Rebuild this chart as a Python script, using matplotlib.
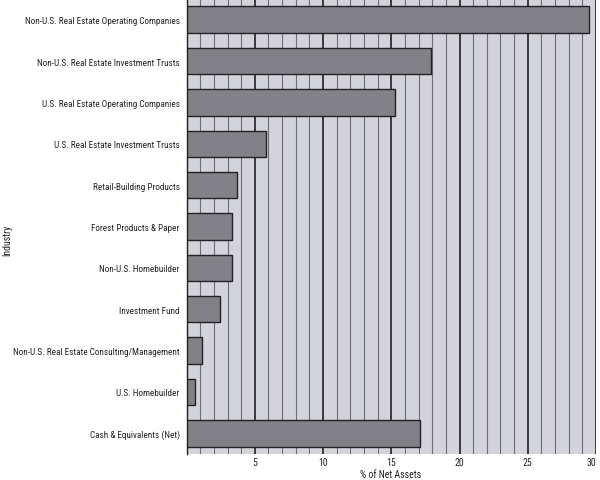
import matplotlib
matplotlib.use("Agg")
import matplotlib.pyplot as plt
from matplotlib.ticker import MultipleLocator
from matplotlib import font_manager

categories = [
    "Non-U.S. Real Estate Operating Companies",
    "Non-U.S. Real Estate Investment Trusts",
    "U.S. Real Estate Operating Companies",
    "U.S. Real Estate Investment Trusts",
    "Retail-Building Products",
    "Forest Products & Paper",
    "Non-U.S. Homebuilder",
    "Investment Fund",
    "Non-U.S. Real Estate Consulting/Management",
    "U.S. Homebuilder",
    "Cash & Equivalents (Net)",
]
values = [29.5, 17.9, 15.25, 5.8, 3.7, 3.3, 3.3, 2.45, 1.1, 0.65, 17.1]
xticks = [5, 10, 15, 20, 25, 30]

# pick a condensed face if one is installed
cands = []
for f in font_manager.fontManager.ttflist:
    st = str(f.stretch)
    if ("Narrow" in f.name or "Condensed" in f.name or st in ("condensed", "semi-condensed", "extra-condensed")) and f.weight in (400, "normal", "regular"):
        cands.append(f)
pref = ["Liberation Sans Narrow", "Roboto Condensed", "Open Sans Condensed", "DejaVu Sans Condensed", "DejaVu Sans", "Noto Sans"]
chosen = None
for p in pref:
    for f in cands:
        if f.name == p and f.style == "normal":
            chosen = f
            break
    if chosen:
        break
if chosen is None and cands:
    chosen = cands[0]
if chosen is not None:
    fp = font_manager.FontProperties(fname=chosen.fname)
    condensed = True
else:
    fp = font_manager.FontProperties(family="DejaVu Sans")
    condensed = False

fs = 6.6 if condensed else 5.6
fs2 = 7.0 if condensed else 6.0

fig = plt.figure(figsize=(6, 4.81), dpi=100)
ax = fig.add_axes([0.311, 0.054, 0.6823, 0.946])
ax.set_facecolor("#d3d3db")

ypos = list(range(len(categories)))
ax.set_xlim(0, 30)
ax.set_ylim(len(categories) - 0.5, -0.5)

ax.xaxis.set_minor_locator(MultipleLocator(1))
ax.set_xticks(xticks)
ax.grid(which="minor", axis="x", color="#6e6e74", linewidth=0.8)
ax.grid(which="major", axis="x", color="#111111", linewidth=1.1)
ax.set_axisbelow(True)

ax.barh(ypos, values, height=0.64, color="#818187", edgecolor="#222222", linewidth=1.0, zorder=3)

ax.set_yticks(ypos)
ax.set_yticklabels(categories, fontproperties=fp, fontsize=fs, color="#222222")
ax.set_xticklabels([str(t) for t in xticks], fontproperties=fp, fontsize=fs2, color="#222222")
ax.tick_params(axis="both", which="both", length=0)
ax.tick_params(axis="y", pad=5)
ax.tick_params(axis="x", pad=2.5)
for lbl in ax.get_xticklabels():
    if lbl.get_text() == "30":
        lbl.set_horizontalalignment("right")

for s in ["top", "right", "bottom"]:
    ax.spines[s].set_visible(False)
ax.spines["left"].set_color("#222222")
ax.spines["left"].set_linewidth(1.0)

fig.text(391 / 600, 1 - 475.5 / 481, "% of Net Assets", ha="center", va="center", fontproperties=fp, fontsize=fs2, color="#222222")
fig.text(0.012, 0.5, "Industry", rotation=90, ha="center", va="center", fontproperties=fp, fontsize=fs2, color="#222222")

fig.savefig("out.png", dpi=100)
